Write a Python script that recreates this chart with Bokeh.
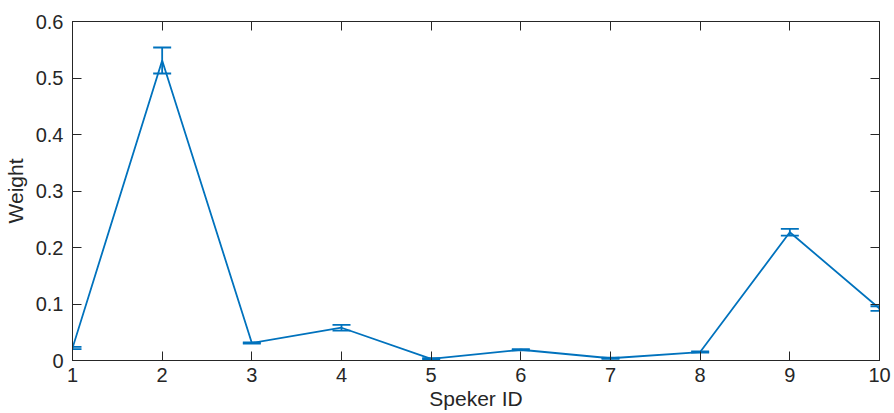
from bokeh.plotting import figure
from bokeh.models import (ColumnDataSource, Whisker, TeeHead, Range1d, FixedTicker,
                          LinearAxis, CustomJSTickFormatter)
from bokeh.embed import file_html
from bokeh.resources import INLINE

speaker_id = [1, 2, 3, 4, 5, 6, 7, 8, 9, 10]
weight = [0.022, 0.531, 0.031, 0.058, 0.003, 0.019, 0.004, 0.015, 0.227, 0.092]
err = [0.002, 0.023, 0.001, 0.005, 0.001, 0.001, 0.001, 0.001, 0.006, 0.004]
x_ticks = [1, 2, 3, 4, 5, 6, 7, 8, 9, 10]
y_ticks = [0, 0.1, 0.2, 0.3, 0.4, 0.5, 0.6]
y_tick_labels = ["0", "0.1", "0.2", "0.3", "0.4", "0.5", "0.6"]

BLUE = "#0072BD"
AX = "#262626"
FONT = "Liberation Sans"

src = ColumnDataSource(dict(
    x=speaker_id, y=weight,
    upper=[w + e for w, e in zip(weight, err)],
    lower=[w - e for w, e in zip(weight, err)],
))

p = figure(width=894, height=413, output_backend="svg", toolbar_location=None,
           x_range=Range1d(1, 10), y_range=Range1d(0, 0.6),
           min_border_left=72, min_border_right=15, min_border_top=21,
           min_border_bottom=53, background_fill_color="white",
           border_fill_color="white")
p.grid.visible = False
p.outline_line_color = AX
p.outline_line_width = 1

p.line("x", "y", source=src, line_color=BLUE, line_width=1.8)
wh = Whisker(source=src, base="x", upper="upper", lower="lower",
             line_color=BLUE, line_width=1.8,
             upper_head=TeeHead(size=18, line_color=BLUE, line_width=1.8),
             lower_head=TeeHead(size=18, line_color=BLUE, line_width=1.8))
p.add_layout(wh)

def style(ax, labels=True):
    ax.axis_line_color = AX
    ax.major_tick_line_color = AX
    ax.major_tick_in = 9
    ax.major_tick_out = 0
    ax.minor_tick_line_color = None
    if labels:
        ax.major_label_text_font = FONT
        ax.major_label_text_font_size = "20px"
        ax.major_label_text_color = AX
        ax.axis_label_text_font = FONT
        ax.axis_label_text_font_size = "21px"
        ax.axis_label_text_font_style = "normal"
        ax.axis_label_text_color = AX
    else:
        ax.formatter = CustomJSTickFormatter(code="return '';")
        ax.major_label_text_font_size = "1px"
        ax.major_label_standoff = 0

xt = FixedTicker(ticks=x_ticks)
yt = FixedTicker(ticks=y_ticks)
p.xaxis.ticker = xt
p.yaxis.ticker = yt
p.yaxis.major_label_overrides = {t: l for t, l in zip(y_ticks, y_tick_labels)}
p.xaxis.axis_label = "Speker ID"
p.yaxis.axis_label = "Weight"
for ax in p.xaxis:
    style(ax)
    ax.major_label_standoff = 7
    ax.axis_label_standoff = 2
for ax in p.yaxis:
    style(ax)
    ax.major_label_standoff = 9
    ax.axis_label_standoff = 6

top = LinearAxis(ticker=FixedTicker(ticks=x_ticks))
right = LinearAxis(ticker=FixedTicker(ticks=y_ticks))
style(top, labels=False)
style(right, labels=False)
p.add_layout(top, "above")
p.add_layout(right, "right")

open("out.html", "w").write(file_html(p, INLINE))
